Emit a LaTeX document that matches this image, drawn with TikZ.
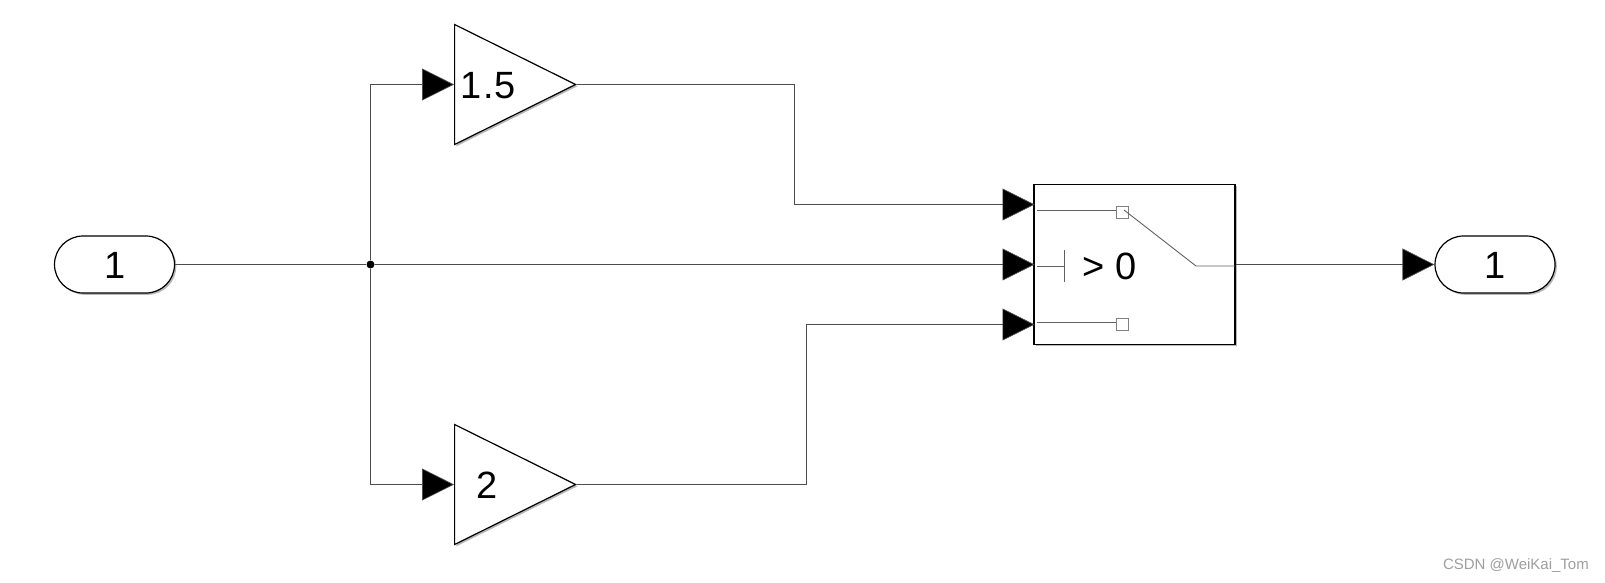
\documentclass[tikz,border=0pt]{standalone}
\usepackage{fontspec}
\setmainfont{Liberation Sans}
\usetikzlibrary{arrows.meta,shapes.geometric,shapes.misc,shadows,calc}
\tikzset{
  x=1pt,y=-1pt,
  softshadow/.style={drop shadow={shadow xshift=1.8pt,shadow yshift=-1.8pt,opacity=.4,fill=black!70}},
  portblock/.style={draw=black,line width=1.2pt,fill=white,rounded rectangle,rounded rectangle arc length=180,minimum width=120pt,minimum height=57pt,inner sep=0pt,softshadow},
  gainblock/.style={draw=black,line width=1.2pt,fill=white,isosceles triangle,isosceles triangle stretches,shape border rotate=0,minimum height=121pt,minimum width=120pt,inner sep=0pt,softshadow},
  switchblock/.style={draw=black,line width=1.4pt,fill=white,rectangle,minimum width=201pt,minimum height=160pt,inner sep=0pt,softshadow},
  blocktext/.style={font=\fontsize{38}{38}\selectfont,text=black,inner sep=0pt,text height=27pt,text depth=0pt},
  wire/.style={draw=black!70,line width=.7pt},
  sigwire/.style={wire,-{Triangle[length=32pt,width=32pt,fill=black]}},
  inner/.style={draw=black!62,line width=.9pt},
  contact/.style={draw=black!50,line width=.9pt,fill=white,rectangle,minimum size=12pt,inner sep=0pt},
  junctiondot/.style={circle,fill=black,minimum size=8pt,inner sep=0pt},
  mark text/.style={font=\fontsize{15}{15}\selectfont,text=black!38,inner sep=0pt}
}
\begin{document}
\begin{tikzpicture}
\useasboundingbox (0,0) rectangle (1605,582);
\node[portblock] (in) at (114.5,264.5) {};
\node[portblock] (out) at (1495,264.5) {};
\node[gainblock,anchor=lower side] (g1) at (454,84.5) {};
\node[gainblock,anchor=lower side] (g2) at (454,484.5) {};
\node[switchblock] (sw) at (1134.5,264.5) {};
\coordinate (sw1) at (1034.5,204.5);
\coordinate (sw2) at (1034.5,264.5);
\coordinate (sw3) at (1034.5,324.5);
\node[junctiondot] (j) at (370.5,264.5) {};
\node[blocktext] (tin) at (115,264.5) {1};
\node[blocktext] (tout) at (1495,264.5) {1};
\node[blocktext] (t1) at (488.5,84.5) {\addfontfeatures{LetterSpace=3}1.5};
\node[blocktext] (t2) at (487.5,484.5) {2};
\node[blocktext] (tsw) at (1109.5,265.5) {> 0};
% wires
\draw[wire] (in.east) -- (j);
\draw[sigwire] (j) |- (g1.lower side);
\draw[sigwire] (j) |- (g2.lower side);
\draw[sigwire] (j) -- (sw2);
\draw[sigwire] (g1.apex) -| (794.5,204.5) -- (sw1);
\draw[sigwire] (g2.apex) -| (806.5,324.5) -- (sw3);
\draw[sigwire] (sw.east |- j) -- (out.west);
% switch icon
\node[contact] (c1) at (1122,212) {};
\node[contact] (c3) at (1122,324) {};
\coordinate (l1) at (1037,210);
\coordinate (l2) at (1037,266);
\coordinate (l3) at (1037,322);
\coordinate (bar) at (1064,266);
\coordinate (bart) at (1064,250);
\coordinate (barb) at (1064,282);
\coordinate (pivot) at (1124,210);
\coordinate (elbow) at (1196,266);
\coordinate (swr) at (1235,266);
\draw[inner] (l1) -- (c1.west |- l1);
\draw[inner] (l3) -- (c3.west |- l3);
\draw[inner] (l2) -- (bar);
\draw[inner] (bart) -- (barb);
\draw[inner] (pivot) -- (elbow) -- (swr);
\node[mark text,anchor=east] (wm) at (1589,566) {CSDN @WeiKai\_Tom};
\end{tikzpicture}
\end{document}
